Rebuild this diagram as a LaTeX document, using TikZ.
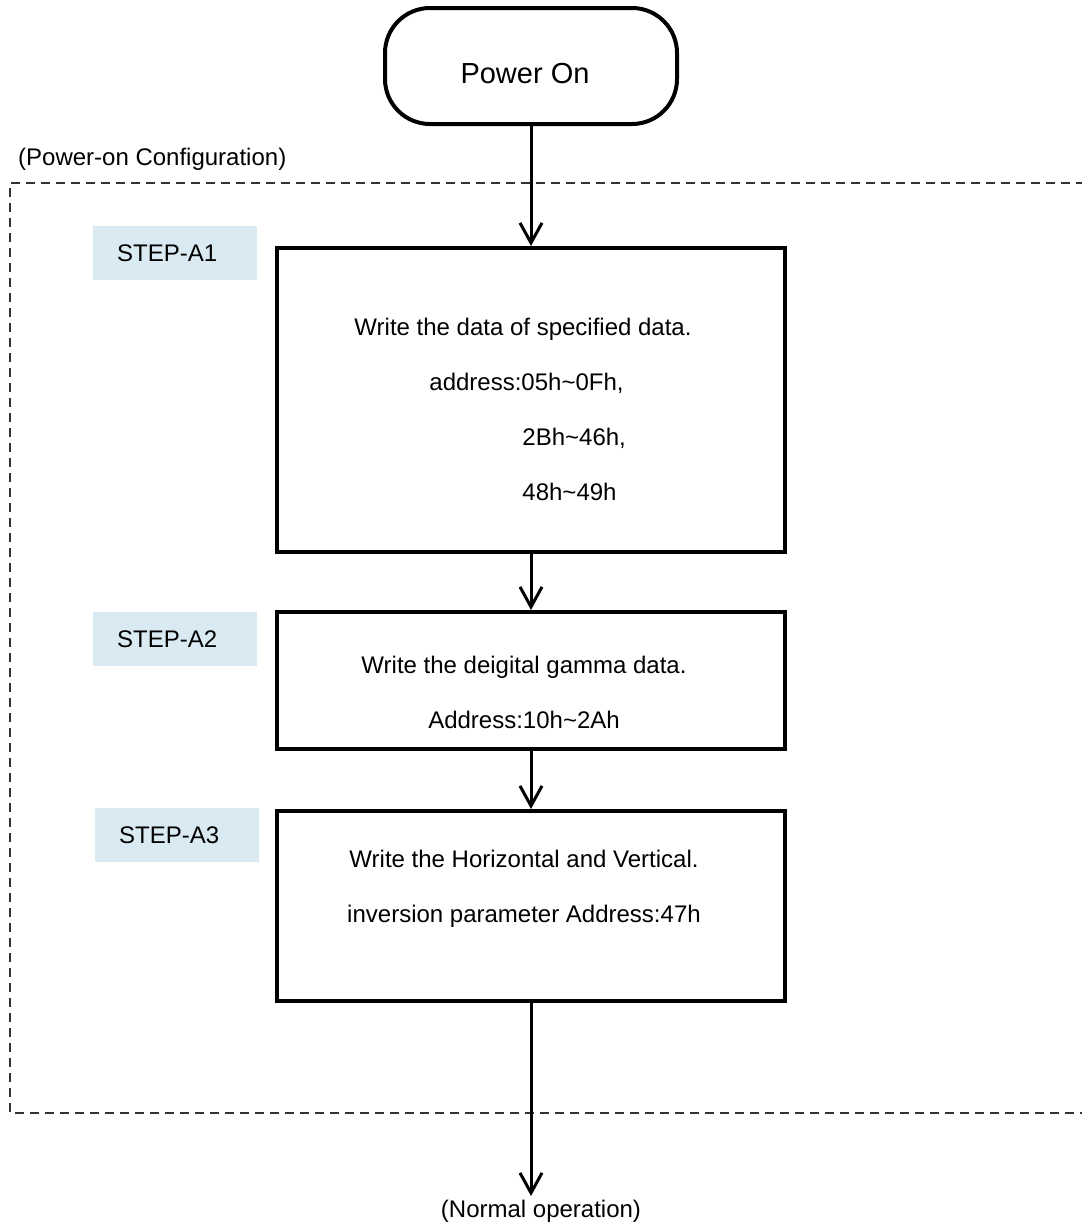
\documentclass[tikz,border=0pt]{standalone}
\usepackage{fontspec}
\setmainfont{Liberation Sans}
\usetikzlibrary{arrows.meta,positioning}
\definecolor{stepblue}{RGB}{218,234,243}
\tikzset{
	procbox/.style={draw,line width=3.5pt,minimum width=508pt,anchor=north,inner sep=0pt},
	steplab/.style={fill=stepblue,anchor=north west,minimum height=54pt,text width=116pt,inner xsep=24pt,inner ysep=0pt,align=left},
	txt/.style={font=\fontsize{24}{55}\selectfont,inner sep=0pt},
	flow/.style={line width=3pt,-{Straight Barb[length=20pt,width=22pt]}}
}
\begin{document}
\begin{tikzpicture}[x=1pt,y=-1pt,font=\fontsize{24}{29}\selectfont]
		\clip (0,0) rectangle (1082,1227);
		% dashed frame of the power-on configuration
		\draw[black!80,line width=1.8pt,dash pattern=on 9pt off 6pt] (1100,183)--(10,183)--(10,1113)--(1100,1113);
		\node[anchor=west,inner sep=0pt] (cfg) at (18,159) {(Power-on Configuration)};
		\node[draw,line width=4pt,rounded corners=45pt,minimum width=292pt,minimum height=116pt] (pwr) at (531,66) {};
		\node[inner sep=0pt,font=\fontsize{29}{34}\selectfont] (pwrtxt) at (525,74) {Power On};
		\node[procbox,minimum height=304pt] (A1) at (531,246) {};
		\node[procbox,minimum height=137pt] (A2) at (531,610) {};
		\node[procbox,minimum height=190pt] (A3) at (531,809) {};
		\node[steplab] (lA1) at (93,226) {STEP-A1};
		\node[steplab] (lA2) at (93,612) {STEP-A2};
		\node[steplab] (lA3) at (95,808) {STEP-A3};
		\node[txt,align=left] (tA1) at (523,409) {Write the data of specified data.\\\hspace*{75pt}address:05h\textasciitilde0Fh,\\\hspace*{168pt}2Bh\textasciitilde46h,\\\hspace*{168pt}48h\textasciitilde49h};
		\node[txt,align=center] (tA2) at (524,692) {Write the deigital gamma data.\\Address:10h\textasciitilde2Ah};
		\node[txt,align=center] (tA3) at (524,889) {Write the Horizontal and Vertical.\\inversion parameter Address:47h};
		\node[inner sep=0pt] (normop) at (541,1211) {(Normal operation)};
		\coordinate (endop) at (531,1196);
		\draw[flow] (pwr.south)--(A1.north);
		\draw[flow] (A1.south)--(A2.north);
		\draw[flow] (A2.south)--(A3.north);
		\draw[flow] (A3.south)--(endop);
\end{tikzpicture}
\end{document}
